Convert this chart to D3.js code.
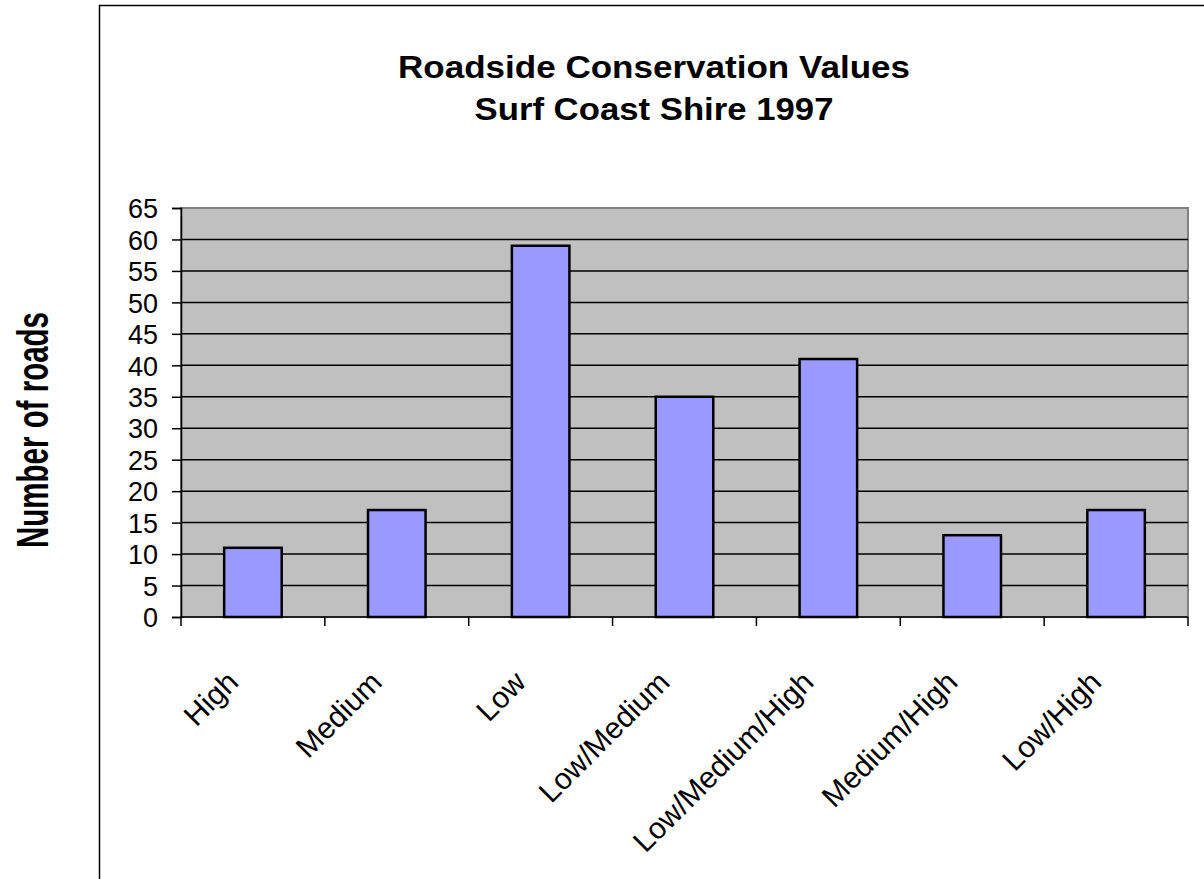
<!DOCTYPE html>
<html><head><meta charset="utf-8">
<script src="https://cdn.jsdelivr.net/npm/d3@7"></script>
<style>body{margin:0;background:#fff}svg{display:block}</style>
</head><body>
<script>
const categories = ["High","Medium","Low","Low/Medium","Low/Medium/High","Medium/High","Low/High"];
const values = [11,17,59,35,41,13,17];
const yTicks = [0,5,10,15,20,25,30,35,40,45,50,55,60,65];
const titleLines = ["Roadside Conservation Values","Surf Coast Shire 1997"];
const titleLengths = [512,359];
const yLabel = "Number of roads";

const W=1204,H=879;
const svg=d3.select("body").append("svg").attr("width",W).attr("height",H);
const font="'Liberation Sans', Arial, sans-serif";
const L=181,R=1188,T=208,B=617;

// frame
svg.append("path").attr("d",`M99.5,${H+2}V5.5H${W+2}`).attr("fill","none").attr("stroke","#000").attr("stroke-width",1.5);

const x=d3.scaleBand().domain(categories).range([L,R]).paddingInner(0.6).paddingOuter(0.3);
const y=d3.scaleLinear().domain([0,65]).range([B,T]);

svg.append("rect").attr("x",L).attr("y",T).attr("width",R-L).attr("height",B-T).attr("fill","#c0c0c0").attr("stroke","#808080").attr("stroke-width",2);

// gridlines
svg.append("g").selectAll("line").data(yTicks.filter(d=>d>0&&d<65)).join("line")
  .attr("x1",L).attr("x2",R).attr("y1",d=>y(d)).attr("y2",d=>y(d))
  .attr("stroke","#000").attr("stroke-width",1.5);

// bars
svg.append("g").selectAll("rect").data(values).join("rect")
  .attr("x",(d,i)=>x(categories[i])).attr("width",x.bandwidth())
  .attr("y",d=>y(d)).attr("height",d=>y(0)-y(d))
  .attr("fill","#9999ff").attr("stroke","#000").attr("stroke-width",2.5);

// y axis
const ya=svg.append("g").attr("transform",`translate(${L},0)`)
  .call(d3.axisLeft(y).tickValues(yTicks).tickSize(9).tickPadding(14));
ya.select(".domain").attr("stroke","#000").attr("stroke-width",1.5);
ya.selectAll(".tick line").attr("stroke","#000").attr("stroke-width",1.5);
ya.selectAll(".tick text").attr("font-family",font).attr("font-size",27).attr("fill","#000").attr("dy","0.36em");

// x axis
const bounds=d3.range(categories.length+1).map(i=>L+i*(R-L)/categories.length);
svg.append("line").attr("x1",L).attr("x2",R).attr("y1",B).attr("y2",B).attr("stroke","#000").attr("stroke-width",1.5);
svg.append("g").selectAll("line").data(bounds).join("line")
  .attr("x1",d=>d).attr("x2",d=>d).attr("y1",B).attr("y2",B+9).attr("stroke","#000").attr("stroke-width",1.5);
svg.append("g").selectAll("text").data(categories).join("text")
  .attr("transform",d=>`translate(${x(d)+x.bandwidth()/2-13},${B+67}) rotate(-45)`)
  .attr("text-anchor","end").attr("font-family",font).attr("font-size",30).attr("fill","#000").text(d=>d);

// title
svg.append("g").selectAll("text").data(titleLines).join("text")
  .attr("x",654).attr("y",(d,i)=>78+i*42).attr("text-anchor","middle")
  .attr("textLength",(d,i)=>titleLengths[i]).attr("lengthAdjust","spacingAndGlyphs")
  .attr("font-family",font).attr("font-weight","bold").attr("font-size",32).attr("fill","#000").text(d=>d);

// y label
svg.append("text").attr("transform","translate(48,430) rotate(-90)").attr("text-anchor","middle")
  .attr("font-family",font).attr("font-weight","bold").attr("font-size",44)
  .attr("textLength",236).attr("lengthAdjust","spacingAndGlyphs").attr("fill","#000").text(yLabel);
</script>
</body></html>
